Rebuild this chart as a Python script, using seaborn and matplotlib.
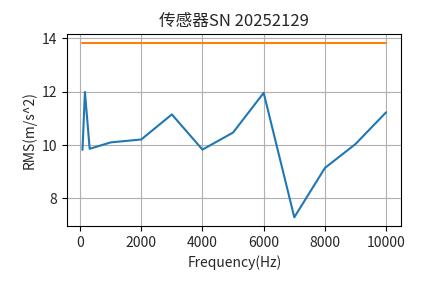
import matplotlib
matplotlib.use("Agg")
import matplotlib.pyplot as plt
import seaborn as sns
import pandas as pd

# Data
freq = [80, 160, 315, 1000, 2000, 3000, 4000, 5000, 6000, 7000, 8000, 9000, 10000]
rms = [9.82, 11.99, 9.86, 10.1, 10.21, 11.15, 9.83, 10.47, 11.96, 7.29, 9.14, 10.04, 11.23]
limit_freq = [80, 10000]
limit_rms = [13.83, 13.83]

title = "传感器SN 20252129"
xlabel = "Frequency(Hz)"
ylabel = "RMS(m/s^2)"

sns.set_style("ticks")
plt.rcParams['font.family'] = ['Noto Sans CJK SC', 'DejaVu Sans']
plt.rcParams['axes.unicode_minus'] = False

fig = plt.figure(figsize=(4.45, 2.83), dpi=100)
ax = fig.add_axes([67.3 / 445, 1 - 226 / 283, (401.3 - 67.3) / 445, (226 - 34.3) / 283])

df = pd.DataFrame({"freq": freq, "rms": rms})
dl = pd.DataFrame({"freq": limit_freq, "rms": limit_rms})
sns.lineplot(data=df, x="freq", y="rms", ax=ax, color="#1f77b4", linewidth=1.5)
sns.lineplot(data=dl, x="freq", y="rms", ax=ax, color="#ff7f0e", linewidth=1.5)

ax.grid(True, color="#b0b0b0", linewidth=0.8)
ax.set_axisbelow(True)
for s in ax.spines.values():
    s.set_visible(True)
    s.set_color("black")
    s.set_linewidth(0.8)
ax.set_xticks([0, 2000, 4000, 6000, 8000, 10000])
ax.set_yticks([8, 10, 12, 14])
ax.tick_params(labelsize=10, length=3.5, width=0.8, color="black")
ax.set_title(title, fontsize=12)
ax.set_xlabel(xlabel, fontsize=10)
ax.set_ylabel(ylabel, fontsize=10)

fig.savefig("out.png", dpi=100)
